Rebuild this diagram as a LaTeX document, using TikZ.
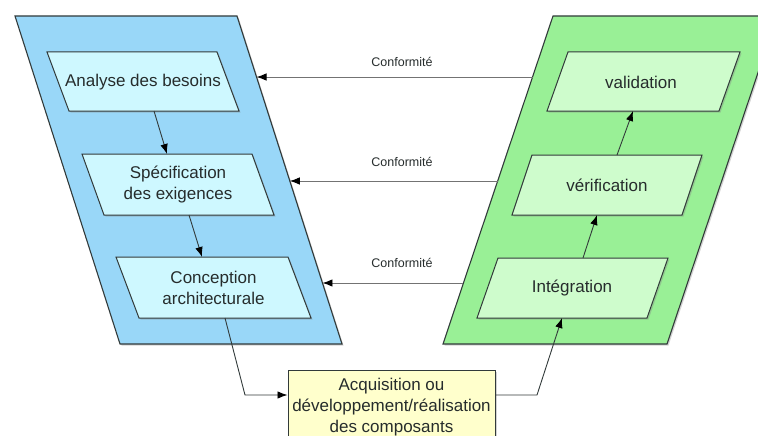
\documentclass[tikz,border=0pt]{standalone}
\usepackage{fontspec}
\setmainfont{Liberation Sans}
\usepackage{tikz}
\usetikzlibrary{arrows.meta,shadows}

\definecolor{bluebg}{RGB}{153,215,248}
\definecolor{bluefill}{RGB}{206,248,255}
\definecolor{greenbg}{RGB}{153,240,150}
\definecolor{greenfill}{RGB}{206,252,204}
\definecolor{acqyellow}{RGB}{255,255,204}
\definecolor{outline}{RGB}{50,58,58}
\definecolor{txt}{RGB}{38,44,44}

\begin{document}
\begin{tikzpicture}[x=1pt, y=-1pt,
	boxshadow/.style={drop shadow={shadow xshift=1.5pt, shadow yshift=-1.5pt, opacity=0.35}},
	leftbg/.style={draw=outline, line width=1.1pt, fill=bluebg, boxshadow},
	rightbg/.style={draw=outline, line width=1.1pt, fill=greenbg, boxshadow},
	leftbox/.style={draw=outline, line width=1pt, fill=bluefill, boxshadow},
	rightbox/.style={draw=outline, line width=1pt, fill=greenfill, boxshadow},
	boxtext/.style={text=txt, align=center, font={\fontsize{17}{21}\selectfont}},
	conftext/.style={text=txt, font={\fontsize{12.5}{14}\selectfont}},
	acqbox/.style={boxtext, draw=outline, line width=1pt, fill=acqyellow, boxshadow,
		minimum width=207pt, inner ysep=8pt},
	flow/.style={draw=outline, line width=0.9pt, -{Latex[length=10pt, width=7.5pt, color=black]}},
	confline/.style={draw=black!55, line width=0.9pt, -{Latex[length=10pt, width=7.5pt, color=black]}}]
	\useasboundingbox (0,0) rectangle (758,436);
	\clip (0,0) rectangle (758,436);
	% Containers:
	\draw[leftbg] (15,16) -- (237,16)
		-- coordinate[pos=0.186] (lft1) coordinate[pos=0.503] (lft2) coordinate[pos=0.814] (lft3) (342,344)
		-- (120,344) -- cycle;
	\draw[rightbg] (443,344)
		-- coordinate[pos=0.186] (rgt3) coordinate[pos=0.497] (rgt2) coordinate[pos=0.814] (rgt1) (553,16)
		-- (777,16) -- (667,344) -- cycle;
	% Left branch:
	\draw[leftbox] (47,52) -- ++(170,0) -- ++(22,59) -- coordinate (analyse-s) ++(-170,0) -- cycle;
	\node[boxtext] (analyse) at (143,82) {Analyse des besoins};
	\draw[leftbox] (82,154) -- coordinate (spec-n) ++(170,0) -- ++(22,61) -- coordinate (spec-s) ++(-170,0) -- cycle;
	\node[boxtext] (spec) at (178,185) {Spécification\\des exigences};
	\draw[leftbox] (116,257) -- coordinate (concep-n) ++(172,0) -- ++(23,61) -- coordinate (concep-s) ++(-172,0) -- cycle;
	\node[boxtext] (concep) at (213.5,288) {Conception\\architecturale};
	% Right branch:
	\draw[rightbox] (719,111) -- coordinate (valid-s) ++(-172,0) -- ++(21,-59) -- ++(172,0) -- cycle;
	\node[boxtext] (validation) at (641,82) {validation};
	\draw[rightbox] (682,215) -- coordinate (verif-s) ++(-170,0) -- ++(20,-60) -- coordinate (verif-n) ++(170,0) -- cycle;
	\node[boxtext] (verification) at (607,185) {vérification};
	\draw[rightbox] (647,318) -- coordinate (integ-s) ++(-170,0) -- ++(21,-60) -- coordinate (integ-n) ++(170,0) -- cycle;
	\node[boxtext] (integration) at (572,288) {Intégration};
	% Bottom:
	\node[acqbox, anchor=north] (acquisition) at (391.5,370) {Acquisition ou\\développement/réalisation\\des composants};
	\coordinate (bend-l) at (245,395);
	\coordinate (bend-r) at (537,395);
	% Arrows:
	\draw[flow] (analyse-s) -- (spec-n);
	\draw[flow] (spec-s) -- (concep-n);
	\draw[flow] (concep-s) -- (bend-l) -- (bend-l -| acquisition.west);
	\draw[flow] (acquisition.east |- bend-r) -- (bend-r) -- (integ-s);
	\draw[flow] (integ-n) -- (verif-s);
	\draw[flow] (verif-n) -- (valid-s);
	\draw[confline] (rgt1) -- (lft1);
	\draw[confline] (rgt2) -- (lft2);
	\draw[confline] (rgt3) -- (lft3);
	\node[conftext] (conf1) at (402,62) {Conformité};
	\node[conftext] (conf2) at (402,162) {Conformité};
	\node[conftext] (conf3) at (402,263) {Conformité};
\end{tikzpicture}
\end{document}
